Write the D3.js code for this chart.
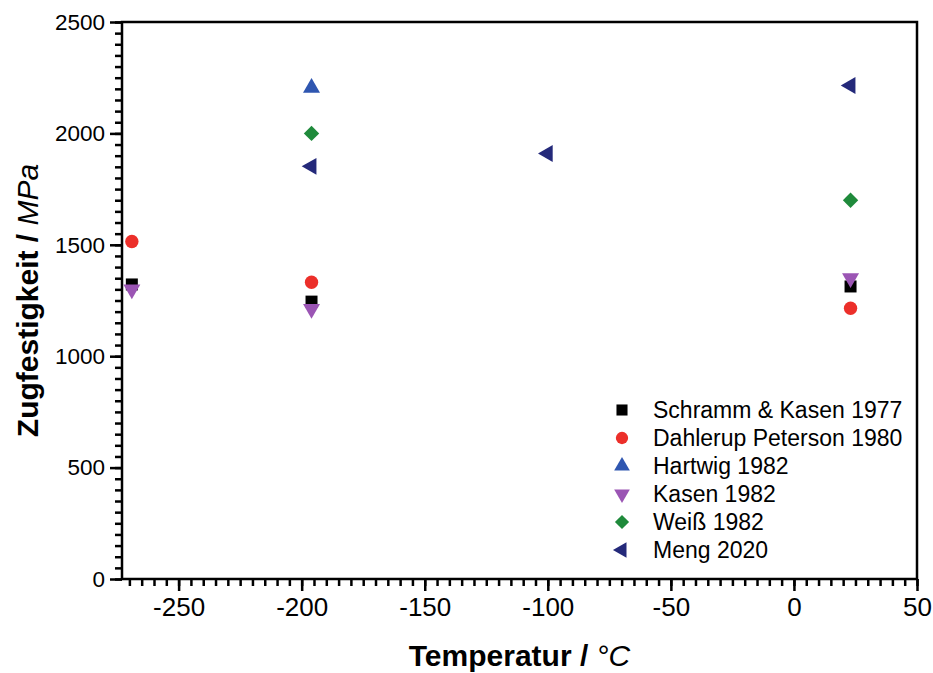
<!DOCTYPE html>
<html>
<head>
<meta charset="utf-8">
<script src="https://cdn.jsdelivr.net/npm/d3@7"></script>
<style>
  body { margin: 0; background: #fff; }
  text { font-family: "Liberation Sans", Arial, sans-serif; }
  .axis path { display: none; }
  .axis line { stroke: #000; stroke-width: 2.5; }
  .axis text { fill: #000; font-family: "Liberation Sans", Arial, sans-serif; }
</style>
</head>
<body>
<div id="chart"></div>
<script>
const width = 933;
const height = 673;
const plotLeft = 122, plotRight = 917, plotTop = 22, plotBottom = 579;

// data
const seriesNames = ['Schramm & Kasen 1977', 'Dahlerup Peterson 1980', 'Hartwig 1982', 'Kasen 1982', 'Weiß 1982', 'Meng 2020'];
const schrammT = [-269, -196, 23];
const schrammS = [1322, 1245, 1313];
const dahlerupT = [-269, -196, 23];
const dahlerupS = [1515, 1332, 1215];
const hartwigT = [-196];
const hartwigS = [2205];
const kasenT = [-269, -196, 23];
const kasenS = [1300, 1212, 1350];
const weissT = [-196, 23];
const weissS = [2000, 1700];
const mengT = [-196, -100, 23];
const mengS = [1852, 1910, 2215];

const xTicks = [-250, -200, -150, -100, -50, 0, 50];
const yTicks = [0, 500, 1000, 1500, 2000, 2500];

const colors = ['#000000', '#ec2f2a', '#2f56b0', '#9b55b4', '#1f8a3b', '#24297a'];
const shapes = [
    { type: d3.symbolSquare, size: 144, rot: 0 },
    { type: d3.symbolCircle, size: 140, rot: 0 },
    { type: d3.symbolTriangle, size: 125, rot: 0 },
    { type: d3.symbolTriangle, size: 125, rot: 180 },
    { type: d3.symbolSquare, size: 118, rot: 45 },
    { type: d3.symbolTriangle, size: 125, rot: -90 }
];

const series = [
    [schrammT, schrammS], [dahlerupT, dahlerupS], [hartwigT, hartwigS],
    [kasenT, kasenS], [weissT, weissS], [mengT, mengS]
].map(function (s, i) {
    return s[0].map(function (t, j) { return { t: t, s: s[1][j], k: i }; });
});

const svg = d3.select('#chart')
    .append('svg')
    .attr('width', width)
    .attr('height', height);

const xScale = d3.scaleLinear().domain([-273, 50]).range([plotLeft, plotRight]);
const yScale = d3.scaleLinear().domain([0, 2500]).range([plotBottom, plotTop]);

// minor ticks
svg.append('g')
    .attr('class', 'axis')
    .attr('transform', 'translate(0,' + plotBottom + ')')
    .call(d3.axisBottom(xScale).tickValues(d3.range(-270, 51, 5)).tickSize(7).tickFormat(''));
svg.append('g')
    .attr('class', 'axis')
    .attr('transform', 'translate(' + plotLeft + ',0)')
    .call(d3.axisLeft(yScale).tickValues(d3.range(0, 2501, 50)).tickSize(7).tickFormat(''));

// major ticks
svg.append('g')
    .attr('class', 'axis')
    .attr('transform', 'translate(0,' + plotBottom + ')')
    .call(d3.axisBottom(xScale).tickValues(xTicks).tickSize(12).tickPadding(7).tickFormat(function (d) { return String(d); }))
    .selectAll('text').attr('font-size', 26);
svg.append('g')
    .attr('class', 'axis')
    .attr('transform', 'translate(' + plotLeft + ',0)')
    .call(d3.axisLeft(yScale).tickValues(yTicks).tickSize(12).tickPadding(5).tickFormat(function (d) { return String(d); }))
    .selectAll('text').attr('font-size', 22.5);

// frame
svg.append('rect')
    .attr('x', plotLeft)
    .attr('y', plotTop)
    .attr('width', plotRight - plotLeft)
    .attr('height', plotBottom - plotTop)
    .attr('fill', 'none')
    .attr('stroke', '#000')
    .attr('stroke-width', 2.5);

// points
series.forEach(function (pts, i) {
    svg.selectAll('.p' + i)
        .data(pts)
        .enter()
        .append('path')
        .attr('class', 'p' + i)
        .attr('d', d3.symbol().type(shapes[i].type).size(shapes[i].size))
        .attr('transform', function (d) {
            return 'translate(' + xScale(d.t) + ',' + yScale(d.s) + ') rotate(' + shapes[i].rot + ')';
        })
        .attr('fill', colors[i]);
});

// legend
const legend = svg.append('g').attr('transform', 'translate(622,410)');
seriesNames.forEach(function (name, i) {
    legend.append('path')
        .attr('d', d3.symbol().type(shapes[i].type).size(shapes[i].size * 0.85))
        .attr('transform', 'translate(0,' + (i * 28) + ') rotate(' + shapes[i].rot + ')')
        .attr('fill', colors[i]);
    legend.append('text')
        .attr('x', 31)
        .attr('y', i * 28 + 8)
        .attr('font-size', 23)
        .text(name);
});

// axis titles
const xt = svg.append('text')
    .attr('x', (plotLeft + plotRight) / 2)
    .attr('y', 666)
    .attr('text-anchor', 'middle')
    .attr('font-size', 30);
xt.append('tspan').attr('font-weight', 'bold').text('Temperatur / ');
xt.append('tspan').attr('font-style', 'italic').text('°C');

const yt = svg.append('text')
    .attr('transform', 'translate(38,' + ((plotTop + plotBottom) / 2) + ') rotate(-90)')
    .attr('text-anchor', 'middle')
    .attr('font-size', 30);
yt.append('tspan').attr('font-weight', 'bold').text('Zugfestigkeit / ');
yt.append('tspan').attr('font-style', 'italic').text('MPa');
</script>
</body>
</html>
